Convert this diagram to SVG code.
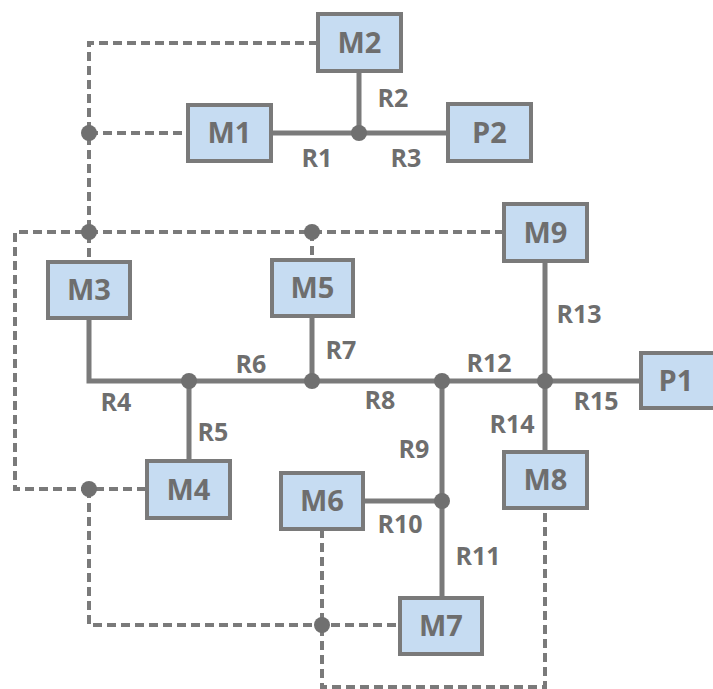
<svg xmlns="http://www.w3.org/2000/svg" width="713" height="689" viewBox="0 0 713 689">
<style>
.box{fill:#c6dcf2;stroke:#7a7a7a;stroke-width:4}
.bt{font-family:"Open Sans","Liberation Sans",sans-serif;font-weight:bold;font-size:29px;fill:#6e6e6e;text-anchor:middle}
.lb{font-family:"Open Sans","Liberation Sans",sans-serif;font-weight:bold;font-size:25px;fill:#6e6e6e;text-anchor:middle}
.solid{fill:none;stroke:#7a7a7a;stroke-width:5}
.dash{fill:none;stroke:#7a7a7a;stroke-width:4;stroke-dasharray:9 5}
.dot{fill:#707070}
</style>
<rect width="713" height="689" fill="#ffffff"/>
<g id="connectors">
<path class="solid" d="M271 133H448M359 71V133"/>
<path class="solid" d="M89 318V381H641M189 381V461M312 316V381M442 381V598M363 501H442M545 261V452"/>
<path class="dash" d="M318 43H89V262"/>
<path class="dash" d="M89 133H188"/>
<path class="dash" d="M504 232H15V489H147"/>
<path class="dash" d="M312 232V260"/>
<path class="dash" d="M89 489V625H400"/>
<path class="dash" d="M322 529V687H545V508"/>
<circle class="dot" cx="89" cy="133" r="8"/>
<circle class="dot" cx="89" cy="232" r="8"/>
<circle class="dot" cx="312" cy="232" r="8"/>
<circle class="dot" cx="89" cy="489" r="8"/>
<circle class="dot" cx="322" cy="625" r="8"/>
<circle class="dot" cx="359" cy="133" r="8"/>
<circle class="dot" cx="189" cy="381" r="8"/>
<circle class="dot" cx="312" cy="381" r="8"/>
<circle class="dot" cx="442" cy="381" r="8"/>
<circle class="dot" cx="545" cy="381" r="8"/>
<circle class="dot" cx="442" cy="501" r="8"/>
<text class="lb" x="317" y="167">R1</text>
<text class="lb" x="393" y="107">R2</text>
<text class="lb" x="406" y="167">R3</text>
<text class="lb" x="116" y="411">R4</text>
<text class="lb" x="213" y="441">R5</text>
<text class="lb" x="251" y="373">R6</text>
<text class="lb" x="341" y="359">R7</text>
<text class="lb" x="380" y="409">R8</text>
<text class="lb" x="414" y="458">R9</text>
<text class="lb" x="400" y="533">R10</text>
<text class="lb" x="478" y="565">R11</text>
<text class="lb" x="489" y="372">R12</text>
<text class="lb" x="579" y="323">R13</text>
<text class="lb" x="512" y="433">R14</text>
<text class="lb" x="596" y="410">R15</text>
</g>
<g id="M2"><rect class="box" x="318" y="14" width="83" height="57"/><text class="bt" x="359.5" y="53">M2</text></g>
<g id="M1"><rect class="box" x="188" y="105" width="83" height="56"/><text class="bt" x="229.5" y="143">M1</text></g>
<g id="P2"><rect class="box" x="448" y="104" width="83" height="57"/><text class="bt" x="489.5" y="143">P2</text></g>
<g id="M9"><rect class="box" x="504" y="204" width="83" height="57"/><text class="bt" x="545.5" y="243">M9</text></g>
<g id="M3"><rect class="box" x="48" y="262" width="82" height="56"/><text class="bt" x="89" y="300">M3</text></g>
<g id="M5"><rect class="box" x="272" y="260" width="81" height="56"/><text class="bt" x="312.5" y="298">M5</text></g>
<g id="P1"><rect class="box" x="641" y="353" width="82" height="55"/><text class="bt" x="676" y="391">P1</text></g>
<g id="M4"><rect class="box" x="147" y="461" width="83" height="57"/><text class="bt" x="188.5" y="500">M4</text></g>
<g id="M6"><rect class="box" x="281" y="473" width="82" height="56"/><text class="bt" x="322" y="511">M6</text></g>
<g id="M8"><rect class="box" x="504" y="452" width="83" height="56"/><text class="bt" x="545.5" y="490">M8</text></g>
<g id="M7"><rect class="box" x="400" y="598" width="82" height="56"/><text class="bt" x="441" y="636">M7</text></g>
</svg>
